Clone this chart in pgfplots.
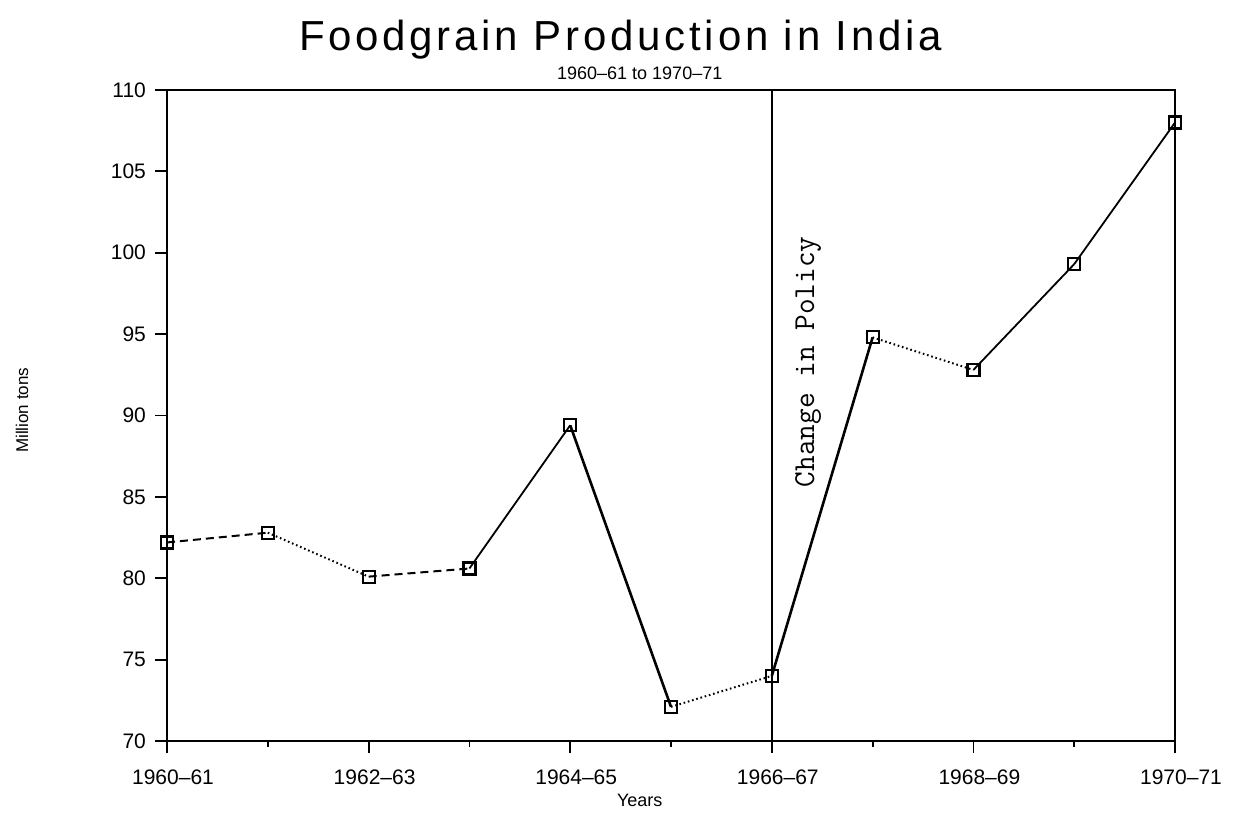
\documentclass[border=0pt]{standalone}
\usepackage{fontspec}
\setmainfont{Liberation Sans}
\usepackage{pgfplots}
\pgfplotsset{compat=1.18}
\begin{document}
\begin{tikzpicture}
\path[use as bounding box] (-83.5pt,-45pt) rectangle ++(617.5pt,415.5pt);
\begin{axis}[
  at={(0,0)}, anchor=south west,
  scale only axis, width=504pt, height=325.5pt,
  xmin=0, xmax=10, ymin=70, ymax=110,
  xtick={0,2,4,6,8,10},
  xticklabels={1960--61,1962--63,1964--65,1966--67,1968--69,1970--71},
  minor xtick={1,3,5,7,9},
  ytick={70,75,80,85,90,95,100,105,110},
  tick align=outside,
  xtick pos=bottom, ytick pos=left,
  major tick length=6pt, minor tick length=3pt,
  every tick/.style={black, line width=0.9pt},
  axis line style={line width=1.1pt},
  /pgf/number format/assume math mode=true,
  tick label style={font=\fontsize{10.5}{12}\selectfont},
  xticklabel style={yshift=-5pt, xshift=3pt},
  yticklabel style={xshift=-1pt},
  clip=false,
]
\addplot[black, line width=1pt, dash pattern=on 4pt off 2.5pt] coordinates {(0,82.2)(1,82.8)};
\addplot[black, line width=1pt, dash pattern=on 0.8pt off 1.4pt] coordinates {(1,82.8)(2,80.1)};
\addplot[black, line width=1pt, dash pattern=on 4pt off 2.5pt] coordinates {(2,80.1)(3,80.6)};
\addplot[black, line width=0.9pt] coordinates {(3,80.6)(4,89.4)};
\addplot[black, line width=1.3pt] coordinates {(4,89.4)(5,72.1)};
\addplot[black, line width=1pt, dash pattern=on 0.8pt off 1.4pt] coordinates {(5,72.1)(6,74.0)};
\addplot[black, line width=1.3pt] coordinates {(6,74.0)(7,94.8)};
\addplot[black, line width=1pt, dash pattern=on 0.8pt off 1.4pt] coordinates {(7,94.8)(8,92.8)};
\addplot[black, line width=0.9pt] coordinates {(8,92.8)(9,99.3)};
\addplot[black, line width=0.9pt] coordinates {(9,99.3)(10,108.0)};
\addplot[black, line width=1.3pt] coordinates {(6,70)(6,110)};
\addplot[only marks, mark=square, mark size=3pt, mark options={line width=1.1pt, fill=white, black}]
  coordinates {(0,82.2)(1,82.8)(2,80.1)(3,80.6)(4,89.4)(5,72.1)(6,74.0)(7,94.8)(8,92.8)(9,99.3)(10,108.0)};
\node[rotate=90, font=\ttfamily\fontsize{15.2}{17}\selectfont] at (axis cs:6.36,93.3) {Change in Policy};
\node[font=\fontsize{21}{25}\selectfont\addfontfeatures{LetterSpace=9}] at ([yshift=25pt]rel axis cs:0.45,1) {Foodgrain Production in India};
\node[font=\fontsize{9}{11}\selectfont] at ([yshift=8.5pt]rel axis cs:0.469,1) {1960--61 to 1970--71};
\node[font=\fontsize{9}{11}\selectfont] at ([yshift=-29.5pt]rel axis cs:0.469,0) {Years};
\node[rotate=90, font=\fontsize{8.5}{10}\selectfont] at ([xshift=-72.5pt]rel axis cs:0,0.508) {Million tons};
\end{axis}
\end{tikzpicture}
\end{document}
